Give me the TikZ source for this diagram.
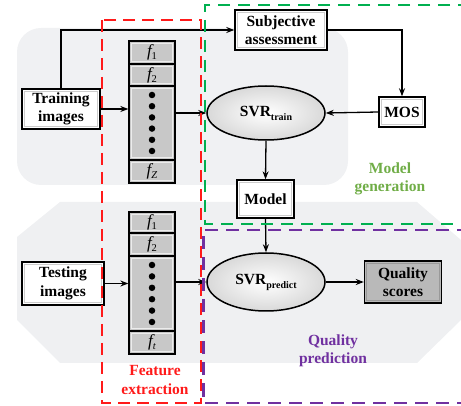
\documentclass[tikz,border=0pt]{standalone}
\usepackage{fontspec}
\setmainfont{Liberation Serif}
\usetikzlibrary{arrows.meta,shapes.geometric,calc}
\definecolor{bgA}{HTML}{F0F1F3}
\definecolor{bgB}{HTML}{EFF0F2}
\definecolor{cellgray}{HTML}{C8C8C8}
\definecolor{gr}{HTML}{00B050}
\definecolor{grtext}{HTML}{70AD47}
\definecolor{rd}{HTML}{FF1A1A}
\definecolor{pu}{HTML}{7030A0}
\tikzset{
  txt/.style={font=\bfseries\fontsize{15.5}{18.5}\selectfont, align=center},
  bevel/.style={path picture={\draw[#1,line width=0.9pt]
      ([shift={(2.2pt,-2.2pt)}]path picture bounding box.north west) rectangle
      ([shift={(-2.2pt,2.2pt)}]path picture bounding box.south east);}},
  wbox/.style={txt, rectangle, draw=black, line width=1.4pt, fill=white, bevel=gray!40, inner sep=0pt},
  gbox/.style={txt, rectangle, draw=black, line width=1.4pt, fill=gray!55, bevel=gray!80, inner sep=0pt},
  cell/.style={rectangle, draw=black, line width=1.3pt, fill=cellgray, bevel=gray!15, inner sep=0pt, minimum width=46pt},
  svr/.style={txt, ellipse, draw=black, line width=1.5pt, inner color=white, outer color=gray!30, inner sep=0pt},
  arr/.style={-{Stealth[length=8pt,width=6pt]}, line width=1.3pt},
  dotc/.style={circle, fill=black, inner sep=0pt, minimum size=6.5pt},
  flab/.style={font=\fontsize{17}{17}\selectfont},
  lab/.style={txt}
}
\newcommand{\fl}[1]{{\itshape f}\raisebox{-3pt}{\fontsize{10.5}{10.5}\selectfont #1}}
\newcommand{\sub}[1]{\raisebox{-4pt}{\fontsize{10}{10}\selectfont #1}}
\begin{document}
\begin{tikzpicture}[x=1pt,y=-1pt]
\useasboundingbox (0,0) rectangle (461,406);
% backgrounds
\fill[bgA, rounded corners=24pt] (17,28) rectangle (348,185);
\fill[bgB] (60,202) -- (417,202) -- (461,240) -- (461,320) -- (417,363) -- (60,363) -- (17,320) -- (17,237) -- cycle;

% nodes
\node[wbox, minimum width=78pt, minimum height=40pt] (train) at (61,109) {Training\\images};
\node[wbox, minimum width=82pt, minimum height=43pt] (test) at (63,283.5) {Testing\\images};
\node[wbox, minimum width=92pt, minimum height=40pt] (subj) at (281,30) {Subjective\\assessment};
\node[wbox, minimum width=46pt, minimum height=30pt] (mos) at (402,112) {MOS};
\node[wbox, minimum width=57pt, minimum height=38pt] (model) at (265.5,199) {Model};
\node[gbox, minimum width=77pt, minimum height=42pt] (qs) at (403,282) {Quality\\scores};
\node[svr, minimum width=118pt, minimum height=54pt] (svrt) at (266,113) {SVR\sub{train}};
\node[svr, minimum width=118pt, minimum height=58pt] (svrp) at (266,282) {SVR\sub{predict}};

% top feature column
\node[cell, minimum height=23pt] (a1) at (152,52.5) {};
\node[cell, minimum height=22pt] (a2) at (152,75) {};
\node[cell, minimum height=74pt] (ad) at (152,123) {};
\node[cell, minimum height=23pt] (az) at (152,171.5) {};
\node[flab] (a1l) at (a1) {\fl{1}};
\node[flab] (a2l) at (a2) {\fl{2}};
\node[flab] (azl) at (az) {\fl{\itshape Z}};
\foreach \i in {0,...,5} { \node[dotc] (adot\i) at (152,{95+\i*11.2}) {}; }

% bottom feature column
\node[cell, minimum height=21pt] (b1) at (152,222.5) {};
\node[cell, minimum height=23pt] (b2) at (152,244.5) {};
\node[cell, minimum height=75pt] (bd) at (152,293.5) {};
\node[cell, minimum height=23pt] (bt) at (152,342.5) {};
\node[flab] (b1l) at (b1) {\fl{1}};
\node[flab] (b2l) at (b2) {\fl{2}};
\node[flab] (btl) at (bt) {\fl{\itshape t}};
\foreach \i in {0,...,5} { \node[dotc] (bdot\i) at (152,{265+\i*11.4}) {}; }

% connectors
\draw[arr] (train.east) -- (train.east -| ad.west);
\draw[arr] (svrt.west -| ad.east) -- (svrt.west);
\draw[arr] (test.east) -- (test.east -| bd.west);
\draw[arr] (svrp.west -| bd.east) -- (svrp.west);
\draw[arr] (train.north) |- (subj.west);
\draw[arr] (subj.east) -| (mos.north);
\draw[arr] (mos.west) -- (svrt.east);
\draw[arr] (svrt.south) -- (model.north);
\draw[arr] (model.south) -- (svrp.north);
\draw[arr] (svrp.east) -- (qs.west);

% dashed regions
\draw[rd, line width=2.2pt, dash pattern=on 12pt off 7pt] (102,20) rectangle (201,403);
\draw[gr, line width=2.2pt, dash pattern=on 12pt off 8pt] (470,5) -- (205,5) -- (205,224) -- (470,224);
\draw[pu, line width=2.2pt, dash pattern=on 13pt off 8pt] (470,230) -- (203.5,230) -- (203.5,403) -- (470,403);

% labels
\node[lab, text=grtext] (lgen) at (390,179) {Model\\generation};
\node[lab, text=rd] (lfeat) at (155,380) {Feature\\extraction};
\node[lab, text=pu] (lpred) at (333,351) {Quality\\prediction};
\end{tikzpicture}
\end{document}
